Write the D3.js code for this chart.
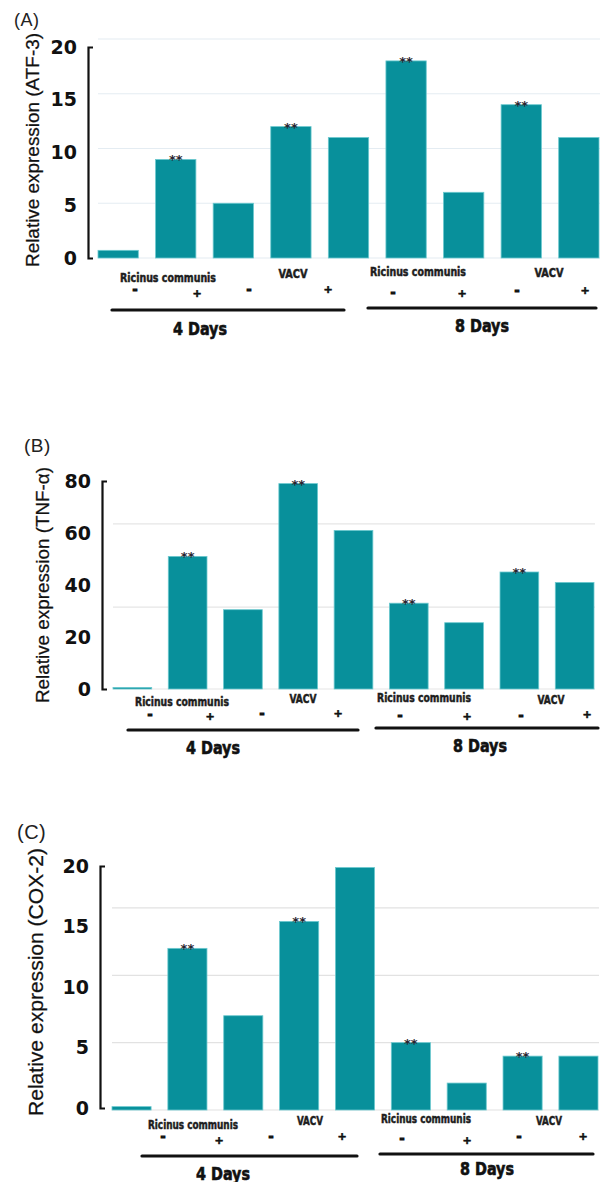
<!DOCTYPE html>
<html>
<head>
<meta charset="utf-8">
<script src="https://cdn.jsdelivr.net/npm/d3@7"></script>
<style>
  html, body { margin: 0; padding: 0; background: #ffffff; }
  svg { display: block; }
</style>
</head>
<body>
<div id="chart"></div>
<script>
// ---------------- DATA ----------------
const categories = ["Control", "4d RC -", "4d RC +", "4d VACV -", "4d VACV +", "8d RC -", "8d RC +", "8d VACV -", "8d VACV +"];
const atf3Values = [0.7, 9, 5, 12, 11, 18, 6, 14, 11];
const tnfValues  = [0.6, 51, 30.5, 79, 61, 33, 25.5, 45, 41];
const cox2Values = [0.25, 12, 7, 14, 18, 5, 2, 4, 4];
const sigMarks   = ["", "**", "", "**", "", "**", "", "**", ""];
const atf3Ticks  = [0, 5, 10, 15, 20];
const tnfTicks   = [0, 20, 40, 60, 80];
const cox2Ticks  = [0, 5, 10, 15, 20];
const atf3Grid   = [0, 5, 10, 15, 20];
const tnfGrid    = [0, 31.5, 63.5];
const cox2Grid   = [0, 5, 10, 15];
const groupLabels = ["Ricinus communis", "VACV", "Ricinus communis", "VACV"];
const signLabels  = ["-", "+", "-", "+", "-", "+", "-", "+"];
const dayLabels   = ["4 Days", "8 Days"];

// ---------------- LAYOUT / STYLE ----------------
const W = 602, H = 1182;
const BAR_FILL = "#08909b", BAR_STROKE = "#6cc9cf";
const CONDENSED = "'Liberation Sans Narrow','DejaVu Sans Condensed','Roboto Condensed',sans-serif";

const panels = [
  {
    letter: "(A)", letterPos: [14, 26], letterSize: 18,
    yLabel: "Relative expression (ATF-3)", yLabelPos: [32, 150], yLabelLen: 234, yLabelSize: 19,
    values: atf3Values, ticks: atf3Ticks, grid: atf3Grid, gridColor: "#e4ecf2",
    band: [98, 599], dataDomain: [0, 20], dataRange: [258, 39],
    axisX: 88, axisRange: [258, 47],
    groupPos: [[168, 277], [293, 273], [418, 271], [549, 272]], groupLen: [96, 29],
    signPos: [[135, 290], [197, 293], [249, 290], [328, 289], [393, 293], [462, 293], [517, 291], [585, 290]],
    lines: [[112, 344, 310], [368, 596, 308]],
    dayPos: [[200, 328], [482, 325]]
  },
  {
    letter: "(B)", letterPos: [24, 452], letterSize: 19,
    yLabel: "Relative expression (TNF-\u03b1)", yLabelPos: [42, 585], yLabelLen: 236, yLabelSize: 19,
    values: tnfValues, ticks: tnfTicks, grid: tnfGrid, gridColor: "#e6e6e6",
    band: [113, 594], dataDomain: [0, 80], dataRange: [689, 481],
    axisX: 102, axisRange: [689, 481],
    groupPos: [[182, 701], [303, 698], [424, 697], [551, 699]], groupLen: [94, 27],
    signPos: [[150, 715], [210, 716], [262, 714], [338, 713], [400, 716], [467, 716], [521, 716], [587, 714]],
    lines: [[128, 358, 730], [376, 598, 728]],
    dayPos: [[213, 747], [480, 745]]
  },
  {
    letter: "(C)", letterPos: [17, 839], letterSize: 20,
    yLabel: "Relative expression (COX-2)", yLabelPos: [35, 982], yLabelLen: 268, yLabelSize: 21,
    values: cox2Values, ticks: cox2Ticks, grid: cox2Grid, gridColor: "#e2e2e2",
    band: [112, 598], dataDomain: [0, 20], dataRange: [1110, 840.6],
    axisX: 100, axisRange: [1108, 866],
    groupPos: [[193, 1124], [310, 1120], [426, 1118], [549, 1120]], groupLen: [90, 26],
    signPos: [[163, 1137], [219, 1140], [271, 1137], [342, 1136], [402, 1139], [467, 1140], [519, 1137], [583, 1136]],
    lines: [[142, 357, 1156], [380, 593, 1154]],
    dayPos: [[223, 1173], [487, 1168]]
  }
];

// ---------------- DRAW ----------------
const svg = d3.select("#chart").append("svg")
  .attr("width", W).attr("height", H)
  .attr("viewBox", `0 0 ${W} ${H}`);

panels.forEach(p => {
  const g = svg.append("g");

  const x = d3.scaleBand().domain(categories).range(p.band).paddingInner(0.3).paddingOuter(0);
  const y = d3.scaleLinear().domain(p.dataDomain).range(p.dataRange);
  const yAxisScale = d3.scaleLinear().domain([p.ticks[0], p.ticks[p.ticks.length - 1]]).range(p.axisRange);

  // gridlines
  g.append("g").selectAll("line").data(p.grid).join("line")
    .attr("x1", p.band[0]).attr("x2", p.band[1] + 1)
    .attr("y1", d => y(d)).attr("y2", d => y(d))
    .attr("stroke", p.gridColor).attr("stroke-width", 1.2);

  // bars
  g.append("g").selectAll("rect").data(p.values).join("rect")
    .attr("x", (d, i) => x(categories[i]))
    .attr("width", x.bandwidth())
    .attr("y", d => y(d))
    .attr("height", d => y(0) - y(d))
    .attr("fill", BAR_FILL)
    .attr("stroke", BAR_STROKE).attr("stroke-width", 0.8);

  // significance marks
  g.append("g").selectAll("text").data(p.values).join("text")
    .attr("x", (d, i) => x(categories[i]) + x.bandwidth() / 2)
    .attr("y", d => y(d) + 5)
    .attr("text-anchor", "middle")
    .attr("font-family", "'DejaVu Sans',sans-serif")
    .attr("font-weight", "bold")
    .attr("font-size", 13)
    .attr("fill", "#2a2530")
    .text((d, i) => sigMarks[i]);

  // y axis
  const axis = d3.axisLeft(yAxisScale).tickValues(p.ticks).tickSize(0).tickSizeOuter(-5).tickPadding(11)
    .tickFormat(d3.format("d"));
  const ax = g.append("g").attr("transform", `translate(${p.axisX},0)`).call(axis);
  ax.select(".domain").attr("stroke", "#111").attr("stroke-width", 2.2).attr("fill", "none");
  ax.selectAll("text")
    .attr("font-family", "'DejaVu Sans',sans-serif")
    .attr("font-weight", "bold")
    .attr("font-size", 19)
    .attr("fill", "#111");

  // y label
  g.append("text")
    .attr("transform", `translate(${p.yLabelPos[0]},${p.yLabelPos[1]}) rotate(-90)`)
    .attr("text-anchor", "middle")
    .attr("dominant-baseline", "central")
    .attr("font-family", "'Liberation Sans',Arial,sans-serif")
    .attr("font-size", p.yLabelSize)
    .attr("fill", "#111")
    .attr("stroke", "#111").attr("stroke-width", 0.25)
    .attr("textLength", p.yLabelLen)
    .attr("lengthAdjust", "spacingAndGlyphs")
    .text(p.yLabel);

  // panel letter
  g.append("text")
    .attr("x", p.letterPos[0]).attr("y", p.letterPos[1])
    .attr("font-family", "'Liberation Sans',Arial,sans-serif")
    .attr("font-size", p.letterSize)
    .attr("letter-spacing", 0.5)
    .attr("fill", "#222")
    .text(p.letter);

  // group labels
  g.append("g").selectAll("text").data(groupLabels).join("text")
    .attr("x", (d, i) => p.groupPos[i][0])
    .attr("y", (d, i) => p.groupPos[i][1])
    .attr("text-anchor", "middle")
    .attr("dominant-baseline", "central")
    .attr("font-family", CONDENSED)
    .attr("font-weight", "bold")
    .attr("font-size", 12.5)
    .attr("fill", "#1d1d1d")
    .attr("stroke", "#1d1d1d").attr("stroke-width", 0.5)
    .attr("textLength", (d, i) => p.groupLen[i % 2])
    .attr("lengthAdjust", "spacingAndGlyphs")
    .text(d => d);

  // signs
  g.append("g").selectAll("text").data(signLabels).join("text")
    .attr("x", (d, i) => p.signPos[i][0])
    .attr("y", (d, i) => p.signPos[i][1])
    .attr("text-anchor", "middle")
    .attr("dominant-baseline", "central")
    .attr("font-family", "'DejaVu Sans',sans-serif")
    .attr("font-weight", "bold")
    .attr("font-size", d => d === "-" ? 12 : 11)
    .attr("fill", "#111")
    .attr("stroke", "#111").attr("stroke-width", d => d === "-" ? 1.2 : 0.6)
    .text(d => d);

  // day bracket lines
  g.append("g").selectAll("line").data(p.lines).join("line")
    .attr("x1", d => d[0]).attr("x2", d => d[1])
    .attr("y1", d => d[2]).attr("y2", d => d[2])
    .attr("stroke", "#111").attr("stroke-width", 3.2).attr("stroke-linecap", "round");

  // day labels
  g.append("g").selectAll("text").data(dayLabels).join("text")
    .attr("x", (d, i) => p.dayPos[i][0])
    .attr("y", (d, i) => p.dayPos[i][1])
    .attr("text-anchor", "middle")
    .attr("dominant-baseline", "central")
    .attr("font-family", CONDENSED)
    .attr("font-weight", "bold")
    .attr("font-size", 18)
    .attr("fill", "#111")
    .attr("stroke", "#111").attr("stroke-width", 0.6)
    .attr("textLength", 54)
    .attr("lengthAdjust", "spacingAndGlyphs")
    .text(d => d);
});
</script>
</body>
</html>
